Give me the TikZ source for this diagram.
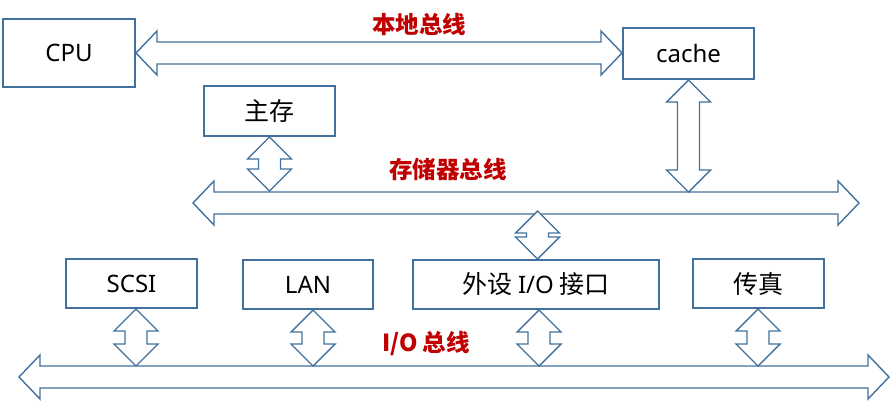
\documentclass[tikz,border=0pt]{standalone}
\usepackage{fontspec}
\setmainfont{Noto Sans CJK SC}
\newfontfamily\latin{Noto Sans}
\usetikzlibrary{calc}
\definecolor{busblue}{HTML}{41719C}
\definecolor{busred}{HTML}{C00000}
\tikzset{
  unitbox/.style={draw=busblue, line width=2pt, fill=white, inner sep=0pt,
    font=\fontsize{25}{27}\selectfont, text=black},
  busline/.style={draw=busblue, line width=1.4pt, fill=white, line join=miter},
  buslabel/.style={font=\fontsize{23.5}{25}\selectfont\bfseries, text=busred, inner sep=0pt}
}
% horizontal double-headed bus: left tip, right tip (same height)
\newcommand\hbus[2]{%
  \draw[busline] let \p1=(#1), \p2=(#2) in
    (\x1,\y1) -- (\x1+21pt,\y1+22pt) -- (\x1+21pt,\y1+11pt) --
    (\x2-21pt,\y1+11pt) -- (\x2-21pt,\y1+22pt) -- (\x2,\y1) --
    (\x2-21pt,\y1-22pt) -- (\x2-21pt,\y1-11pt) -- (\x1+21pt,\y1-11pt) --
    (\x1+21pt,\y1-22pt) -- cycle;}
% vertical double-headed connector: [head length] upper tip, lower tip
\newcommand\vlink[3][22]{%
  \draw[busline] let \p1=(#2), \p2=(#3) in
    (\x1,\y1) -- (\x1+22pt,\y1-#1pt) -- (\x1+11pt,\y1-#1pt) --
    (\x1+11pt,\y2+#1pt) -- (\x1+22pt,\y2+#1pt) -- (\x1,\y2) --
    (\x1-22pt,\y2+#1pt) -- (\x1-11pt,\y2+#1pt) -- (\x1-11pt,\y1-#1pt) --
    (\x1-22pt,\y1-#1pt) -- cycle;}
\begin{document}
\begin{tikzpicture}[x=1pt,y=-1pt]
\useasboundingbox (0,0) rectangle (896,407);

% processor, cache and main memory
\node[unitbox, minimum width=132pt, minimum height=68pt] (cpu) at (69,53) {\latin\fontsize{24}{26}\selectfont CPU};
\node[unitbox, minimum width=131pt, minimum height=51pt] (cache) at (688.5,53.5) {\latin\fontsize{24}{26}\selectfont cache};
\node[unitbox, minimum width=131pt, minimum height=50pt] (mem) at (269.5,111) {主存};

% I/O units
\node[unitbox, minimum width=131pt, minimum height=49pt] (scsi) at (131.5,283.5) {\latin\fontsize{24}{26}\selectfont SCSI};
\node[unitbox, minimum width=130pt, minimum height=49pt] (lan) at (308,284.5) {\latin\fontsize{24}{26}\selectfont LAN};
\node[unitbox, minimum width=246pt, minimum height=49pt] (ioif) at (536,284.5) {外设 {\latin\fontsize{24}{26}\selectfont I/O} 接口};
\node[unitbox, minimum width=131pt, minimum height=49pt] (fax) at (758.5,283.5) {传真};

% bus end points
\coordinate (localL) at (cpu.east);
\coordinate (localR) at (cache.west);
\coordinate (memL) at (193,203);
\coordinate (memR) at (859,203);
\coordinate (ioL) at (19,377);
\coordinate (ioR) at (889,377);

% local bus
\hbus{localL}{localR}
\node[buslabel] (lblLocal) at (419,25) {本地总线};

% memory bus
\hbus{memL}{memR}
\node[buslabel] (lblMem) at (448,170) {存储器总线};

% I/O bus
\hbus{ioL}{ioR}
\node[buslabel] (lblIO) at (426,344) {I/O 总线};

% links onto the buses
\coordinate (cacheBus) at (688,192);
\coordinate (memBus) at (269,191);
\coordinate (ifUp) at (537.5,211);
\vlink{cache.south}{cacheBus}
\vlink{mem.south}{memBus}
\vlink[22]{ifUp}{ioif.north -| ifUp}

\coordinate (scsiBus) at (136,366);
\coordinate (lanBus) at (313,366);
\coordinate (ioifBus) at (539,366);
\coordinate (faxBus) at (758,366);
\vlink{scsi.south -| scsiBus}{scsiBus}
\vlink{lan.south -| lanBus}{lanBus}
\vlink{ioif.south -| ioifBus}{ioifBus}
\vlink{fax.south -| faxBus}{faxBus}
\end{tikzpicture}
\end{document}
